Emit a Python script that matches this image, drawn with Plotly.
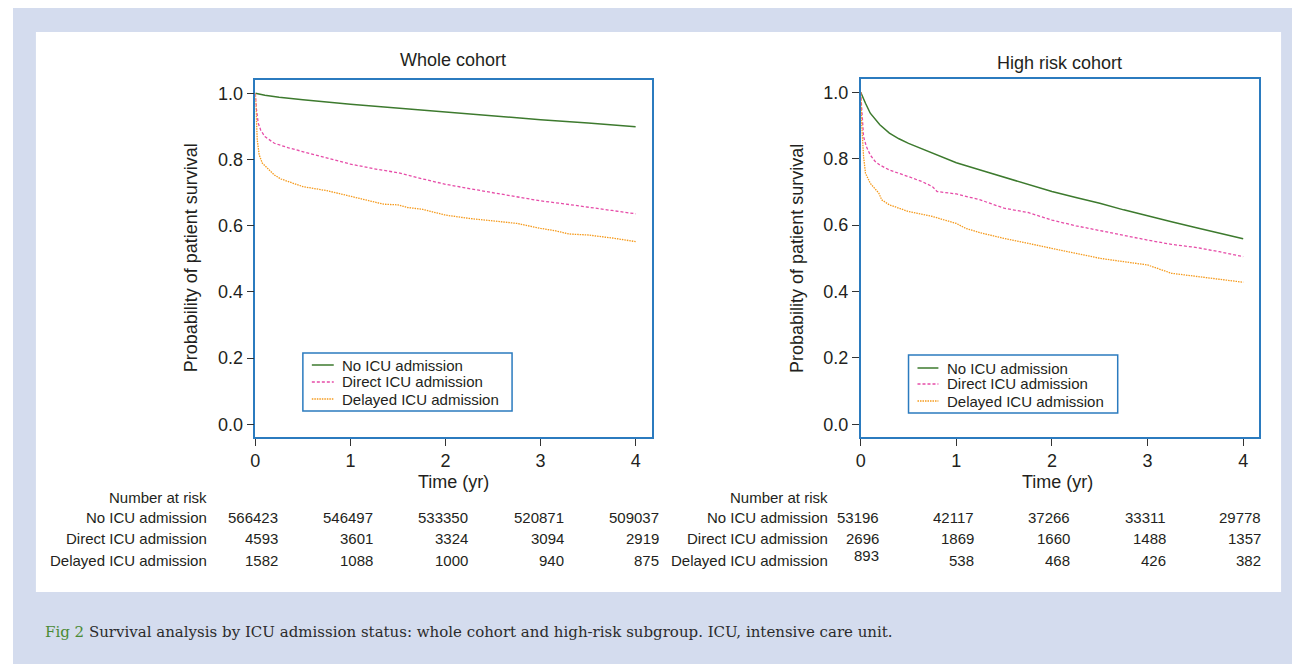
import plotly.graph_objects as go

# page is drawn inside the default 8px body margin
OFF = 8
W, H = 1300 - OFF, 664 - OFF

def px(x):
    return (x - OFF) / W

def py(y):
    return 1 - (y - OFF) / H

# ---------------- data ----------------
groups = ["No ICU admission", "Direct ICU admission", "Delayed ICU admission"]

# Whole cohort
whole_no_t = [0, 0.05, 0.1, 0.25, 0.5, 1, 1.5, 2, 2.5, 3, 3.5, 4]
whole_no_s = [1.0, 0.997, 0.994, 0.988, 0.980, 0.967, 0.955, 0.944, 0.932, 0.920, 0.910, 0.899]

whole_direct_t = [0, 0.01, 0.03, 0.056, 0.1, 0.2, 0.35, 0.5, 0.75, 1, 1.25, 1.5, 1.75, 2, 2.25, 2.5, 2.75, 3, 3.25, 3.5, 3.75, 4]
whole_direct_s = [1.0, 0.955, 0.91, 0.889, 0.869, 0.849, 0.835, 0.824, 0.805, 0.786, 0.772, 0.760, 0.742, 0.725, 0.712, 0.700, 0.687, 0.675, 0.666, 0.657, 0.646, 0.636]

whole_delayed_t = [0, 0.005, 0.02, 0.04, 0.073, 0.126, 0.2, 0.27, 0.37, 0.5, 0.75, 1, 1.2, 1.35, 1.5, 1.6, 1.75, 2, 2.25, 2.5, 2.75, 3, 3.15, 3.3, 3.5, 3.75, 4]
whole_delayed_s = [1.0, 0.95, 0.859, 0.814, 0.789, 0.774, 0.753, 0.741, 0.730, 0.718, 0.706, 0.688, 0.675, 0.665, 0.663, 0.655, 0.650, 0.632, 0.622, 0.614, 0.607, 0.592, 0.585, 0.575, 0.572, 0.563, 0.552]

# High risk cohort
high_no_t = [0, 0.02, 0.05, 0.1, 0.15, 0.2, 0.3, 0.4, 0.5, 0.75, 1, 1.25, 1.5, 1.75, 2, 2.25, 2.5, 2.75, 3, 3.25, 3.5, 3.75, 4]
high_no_s = [1.0, 0.985, 0.967, 0.937, 0.918, 0.902, 0.877, 0.860, 0.846, 0.816, 0.788, 0.766, 0.745, 0.723, 0.701, 0.683, 0.666, 0.646, 0.627, 0.610, 0.593, 0.576, 0.559]

high_direct_t = [0, 0.01, 0.03, 0.06, 0.1, 0.15, 0.2, 0.3, 0.4, 0.5, 0.65, 0.75, 0.8, 1, 1.25, 1.5, 1.75, 2, 2.25, 2.5, 2.75, 3, 3.25, 3.5, 3.75, 4]
high_direct_s = [1.0, 0.957, 0.866, 0.836, 0.811, 0.792, 0.781, 0.766, 0.755, 0.746, 0.730, 0.716, 0.701, 0.694, 0.676, 0.651, 0.638, 0.615, 0.598, 0.583, 0.569, 0.555, 0.542, 0.533, 0.520, 0.505]

high_delayed_t = [0, 0.01, 0.03, 0.05, 0.1, 0.15, 0.19, 0.22, 0.3, 0.4, 0.5, 0.75, 1, 1.1, 1.25, 1.5, 1.75, 2, 2.25, 2.5, 2.75, 3, 3.25, 3.5, 3.75, 4]
high_delayed_s = [1.0, 0.906, 0.806, 0.756, 0.726, 0.711, 0.696, 0.676, 0.661, 0.651, 0.641, 0.626, 0.605, 0.590, 0.577, 0.560, 0.545, 0.530, 0.515, 0.500, 0.490, 0.480, 0.455, 0.447, 0.437, 0.428]

# Number at risk
risk_times = [0, 1, 2, 3, 4]
whole_risk = [
    [566423, 546497, 533350, 520871, 509037],
    [4593, 3601, 3324, 3094, 2919],
    [1582, 1088, 1000, 940, 875],
]
high_risk = [
    [53196, 42117, 37266, 33311, 29778],
    [2696, 1869, 1660, 1488, 1357],
    [893, 538, 468, 426, 382],
]

y_ticks = [0.0, 0.2, 0.4, 0.6, 0.8, 1.0]
x_ticks = [0, 1, 2, 3, 4]

panel_titles = ["Whole cohort", "High risk cohort"]
x_title = "Time (yr)"
y_title = "Probability of patient survival"
risk_header = "Number at risk"
caption_fig = "Fig 2"
caption_text = " Survival analysis by ICU admission status: whole cohort and high-risk subgroup. ICU, intensive care unit."

# ---------------- styling ----------------
colors = ["#3d7a2e", "#e64ca8", "#f59a1c"]
dashes = ["solid", "3px,2px", "1.5px,1px"]
widths = [1.5, 1.3, 1.3]
FONT = "Liberation Sans, Arial, Helvetica, sans-serif"
TXT = "#231f20"
BLUE = "#2b7bbf"

fig = go.Figure()

whole = [(whole_no_t, whole_no_s), (whole_direct_t, whole_direct_s), (whole_delayed_t, whole_delayed_s)]
high = [(high_no_t, high_no_s), (high_direct_t, high_direct_s), (high_delayed_t, high_delayed_s)]

for i, (t, s) in enumerate(whole):
    fig.add_trace(go.Scatter(x=t, y=s, mode="lines", name=groups[i],
                             line=dict(color=colors[i], dash=dashes[i], width=widths[i]),
                             xaxis="x", yaxis="y", showlegend=False))
for i, (t, s) in enumerate(high):
    fig.add_trace(go.Scatter(x=t, y=s, mode="lines", name=groups[i],
                             line=dict(color=colors[i], dash=dashes[i], width=widths[i]),
                             xaxis="x2", yaxis="y2", showlegend=False))

axis_common = dict(
    showline=True, linecolor=BLUE, linewidth=1.5, mirror=True,
    ticks="outside", ticklen=7, tickwidth=1.2, tickcolor="#333333",
    showgrid=False, zeroline=False,
    tickfont=dict(family=FONT, size=18, color=TXT),
)

fig.update_layout(
    width=W, height=H,
    margin=dict(l=0, r=0, t=0, b=0),
    paper_bgcolor="white", plot_bgcolor="white",
    font=dict(family=FONT, color=TXT),
    xaxis=dict(domain=[px(251.3), px(649)], range=[0, 4.167], tickvals=x_ticks, anchor="y", **axis_common),
    yaxis=dict(domain=[py(437), py(80)], range=[-0.038, 1.040], tickvals=y_ticks, tickformat=".1f", anchor="x", **axis_common),
    xaxis2=dict(domain=[px(859), px(1259)], range=[0, 4.167], tickvals=x_ticks, anchor="y2", **axis_common),
    yaxis2=dict(domain=[py(437), py(79)], range=[-0.038, 1.040], tickvals=y_ticks, tickformat=".1f", anchor="x2", **axis_common),
    showlegend=False,
)

# background frame
fig.add_shape(type="rect", xref="paper", yref="paper", x0=0, x1=1, y0=0, y1=1,
              fillcolor="#d4dcee", line=dict(width=0), layer="below")
fig.add_shape(type="rect", xref="paper", yref="paper", x0=px(31), x1=px(1281), y0=py(592), y1=py(32),
              fillcolor="white", line=dict(width=0), layer="below")

ann = []

# legends (drawn as boxed keys inside each panel)
legend_specs = [
    dict(box=(299, 353, 509, 411), line_x=(308, 330), text_x=336, rows=[365, 382, 399]),
    dict(box=(907, 355, 1117, 413), line_x=(916, 937), text_x=944, rows=[368, 384, 401]),
]
for spec in legend_specs:
    x0, y0, x1, y1 = spec["box"]
    fig.add_shape(type="rect", xref="paper", yref="paper", x0=px(x0), x1=px(x1), y0=py(y1), y1=py(y0),
                  fillcolor="white", line=dict(color=BLUE, width=1.5))
    for i, g in enumerate(groups):
        yy = spec["rows"][i]
        fig.add_shape(type="line", xref="paper", yref="paper",
                      x0=px(spec["line_x"][0]), x1=px(spec["line_x"][1]), y0=py(yy), y1=py(yy),
                      line=dict(color=colors[i], dash=dashes[i], width=widths[i]))
        ann.append(dict(text=g, x=px(spec["text_x"]), y=py(yy), xref="paper", yref="paper",
                        showarrow=False, font=dict(size=15, family=FONT, color=TXT),
                        xanchor="left", yanchor="middle"))

# panel titles
ann.append(dict(text=panel_titles[0], x=px(450), y=py(60), xref="paper", yref="paper",
                showarrow=False, font=dict(size=18, family=FONT, color=TXT), xanchor="center", yanchor="middle"))
ann.append(dict(text=panel_titles[1], x=px(1059), y=py(63), xref="paper", yref="paper",
                showarrow=False, font=dict(size=18, family=FONT, color=TXT), xanchor="center", yanchor="middle"))
# axis titles
for xc, yc in [(187, 258), (795, 258)]:
    ann.append(dict(text=y_title, x=px(xc), y=py(yc), xref="paper", yref="paper", textangle=-90,
                    showarrow=False, font=dict(size=18, family=FONT, color=TXT), xanchor="center", yanchor="middle"))
for xc in [450, 1057]:
    ann.append(dict(text=x_title, x=px(xc), y=py(482), xref="paper", yref="paper",
                    showarrow=False, font=dict(size=18, family=FONT, color=TXT), xanchor="center", yanchor="middle"))

# number at risk tables
row_y = [517, 538, 560]
for label_x, xref, shift, table in [(205, "x", 25, whole_risk), (828, "x2", 20, high_risk)]:
    ann.append(dict(text=risk_header, x=px(label_x), y=py(497), xref="paper", yref="paper",
                    showarrow=False, font=dict(size=15, family=FONT, color=TXT), xanchor="right", yanchor="middle"))
    for r, g in enumerate(groups):
        ann.append(dict(text=g, x=px(label_x), y=py(row_y[r]), xref="paper", yref="paper",
                        showarrow=False, font=dict(size=15, family=FONT, color=TXT), xanchor="right", yanchor="middle"))
        for c, t in enumerate(risk_times):
            ys = 0
            if table is high_risk and r == 2 and c == 0:
                ys = 5
            ann.append(dict(text=str(table[r][c]), x=t, xref=xref, xshift=shift, y=py(row_y[r]), yref="paper",
                            yshift=ys, showarrow=False, font=dict(size=15, family=FONT, color=TXT),
                            xanchor="right", yanchor="middle"))

# caption
ann.append(dict(text=f"<span style='color:#4a8a35'>{caption_fig}</span>{caption_text}",
                x=px(38), y=py(632), xref="paper", yref="paper", showarrow=False,
                font=dict(size=15, family="DejaVu Serif, Liberation Serif, serif", color="#2b2b2b"),
                xanchor="left", yanchor="middle"))

fig.update_layout(annotations=ann)
fig.write_html("out.html")
